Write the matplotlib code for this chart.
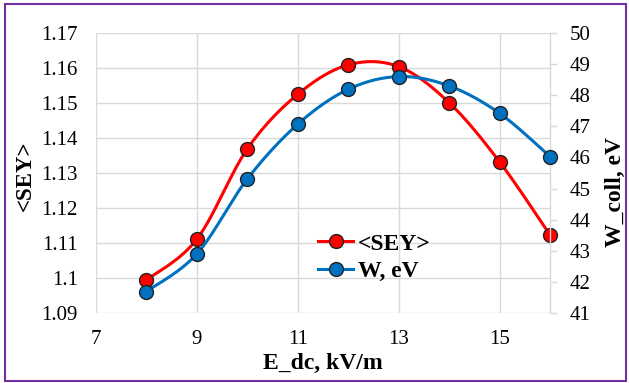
import numpy as np
import matplotlib.pyplot as plt
from matplotlib.lines import Line2D
from matplotlib.patches import Rectangle

plt.rcParams['font.family'] = ['Liberation Serif', 'DejaVu Serif']

e_dc = [8, 9, 10, 11, 12, 13, 14, 15, 16]
sey = [1.0994, 1.1111, 1.1369, 1.1525, 1.1609, 1.1604, 1.1501, 1.1332, 1.1123]
w_coll = [41.69, 42.90, 45.31, 47.07, 48.19, 48.60, 48.30, 47.42, 46.03]

x_ticks = [7, 9, 11, 13, 15]
sey_ticks = [1.09, 1.10, 1.11, 1.12, 1.13, 1.14, 1.15, 1.16, 1.17]
sey_labels = ['1.09', '1.1', '1.11', '1.12', '1.13', '1.14', '1.15', '1.16', '1.17']
w_ticks = [41, 42, 43, 44, 45, 46, 47, 48, 49, 50]

red = '#ff0000'
blue = '#0070c0'
grid = '#d9d9d9'

W, H = 629, 383

# --------------------------------------------------------------------------------------------------

def smooth(x, y, n=30):
    # Catmull-Rom style cubic bezier through the points (spreadsheet "smoothed line")
    x = np.asarray(x, float)
    y = np.asarray(y, float)
    px = np.concatenate([[x[0]], x, [x[-1]]])
    py = np.concatenate([[y[0]], y, [y[-1]]])
    xs, ys = [], []
    t = np.linspace(0, 1, n)
    for i in range(len(x) - 1):
        p0 = np.array([px[i + 1], py[i + 1]])
        p3 = np.array([px[i + 2], py[i + 2]])
        p1 = p0 + (np.array([px[i + 2], py[i + 2]]) - np.array([px[i], py[i]])) / 6
        p2 = p3 - (np.array([px[i + 3], py[i + 3]]) - np.array([px[i + 1], py[i + 1]])) / 6
        b = ((1 - t)**3)[:, None] * p0 + (3 * (1 - t)**2 * t)[:, None] * p1 \
            + (3 * (1 - t) * t**2)[:, None] * p2 + (t**3)[:, None] * p3
        xs.append(b[:, 0])
        ys.append(b[:, 1])
    return np.concatenate(xs), np.concatenate(ys)

def fig_xy(x, y):
    # pixel position from the top-left corner -> figure fraction
    return x / W, 1 - y / H

# --------------------------------------------------------------------------------------------------

fig = plt.figure(figsize=(W / 100, H / 100), dpi=100)
ax = fig.add_axes([96 / W, 1 - 313 / H, (550 - 96) / W, (313 - 33) / H])
ax2 = ax.twinx()

fig.patches.append(Rectangle((5 / W, 2 / H), 621 / W, 377 / H, transform=fig.transFigure,
                             fill=False, edgecolor='#7030a0', lw=1.5, zorder=10))

for a in [ax, ax2]:
    for s in a.spines.values():
        s.set_visible(False)

ax.set_xlim(7, 16)
ax.set_ylim(1.09, 1.17)
ax2.set_ylim(41, 50)

ax.set_xticks(x_ticks)
ax.set_yticks(sey_ticks)
ax.set_yticklabels(sey_labels)
ax2.set_yticks(w_ticks)

# grid: verticals every 2 kV/m, horizontals on the left scale
for xv in x_ticks:
    ax.axvline(xv, c=grid, lw=1, zorder=0)
for yv in sey_ticks:
    ax.axhline(yv, c=grid, lw=1, zorder=0)
ax2.spines['right'].set_visible(True)
ax2.spines['right'].set_color(grid)
ax2.spines['right'].set_linewidth(1)

ax.tick_params(axis='y', length=0, labelsize=15, pad=13)
ax.tick_params(axis='x', length=0, labelsize=15, pad=12)
ax2.tick_params(axis='y', length=5, width=1, color=grid, labelsize=15, pad=9, direction='out')

sx, sy = smooth(e_dc, sey)
ax.plot(sx, sy, c=red, lw=2.2, zorder=3)
ax.plot(e_dc, sey, ls='none', marker='o', ms=10, mfc=red, mec='#222222', mew=1, zorder=4,
        clip_on=False)

wx, wy = smooth(e_dc, w_coll)
ax2.plot(wx, wy, c=blue, lw=2.2, zorder=3)
ax2.plot(e_dc, w_coll, ls='none', marker='o', ms=10, mfc=blue, mec='#222222', mew=1, zorder=4,
         clip_on=False)

ax.set_xlabel('E_dc, kV/m', fontsize=17, fontweight='bold')
ax.set_ylabel('<SEY>', fontsize=16.5, fontweight='bold')
ax2.set_ylabel('W_coll, eV', fontsize=17, fontweight='bold', rotation=90)
ax.xaxis.set_label_coords(*fig_xy(323, 363), transform=fig.transFigure)
ax.yaxis.set_label_coords(*fig_xy(25, 176), transform=fig.transFigure)
ax2.yaxis.set_label_coords(*fig_xy(615, 192), transform=fig.transFigure)
ax.xaxis.label.set_va('center')
ax.yaxis.label.set_va('center')
ax2.yaxis.label.set_va('center')

handles = [Line2D([], [], c=red, lw=2.2, marker='o', ms=10, mfc=red, mec='#222222'),
           Line2D([], [], c=blue, lw=2.2, marker='o', ms=10, mfc=blue, mec='#222222')]
leg = ax2.legend(handles, ['<SEY>', 'W, eV'], loc='upper left', bbox_to_anchor=(0.489, 0.285),
                 frameon=False, prop={'size': 17, 'weight': 'bold'}, handlelength=1.5,
                 handletextpad=0.2, labelspacing=0.25, borderaxespad=0, borderpad=0)

plt.savefig('out.png', dpi=100)
